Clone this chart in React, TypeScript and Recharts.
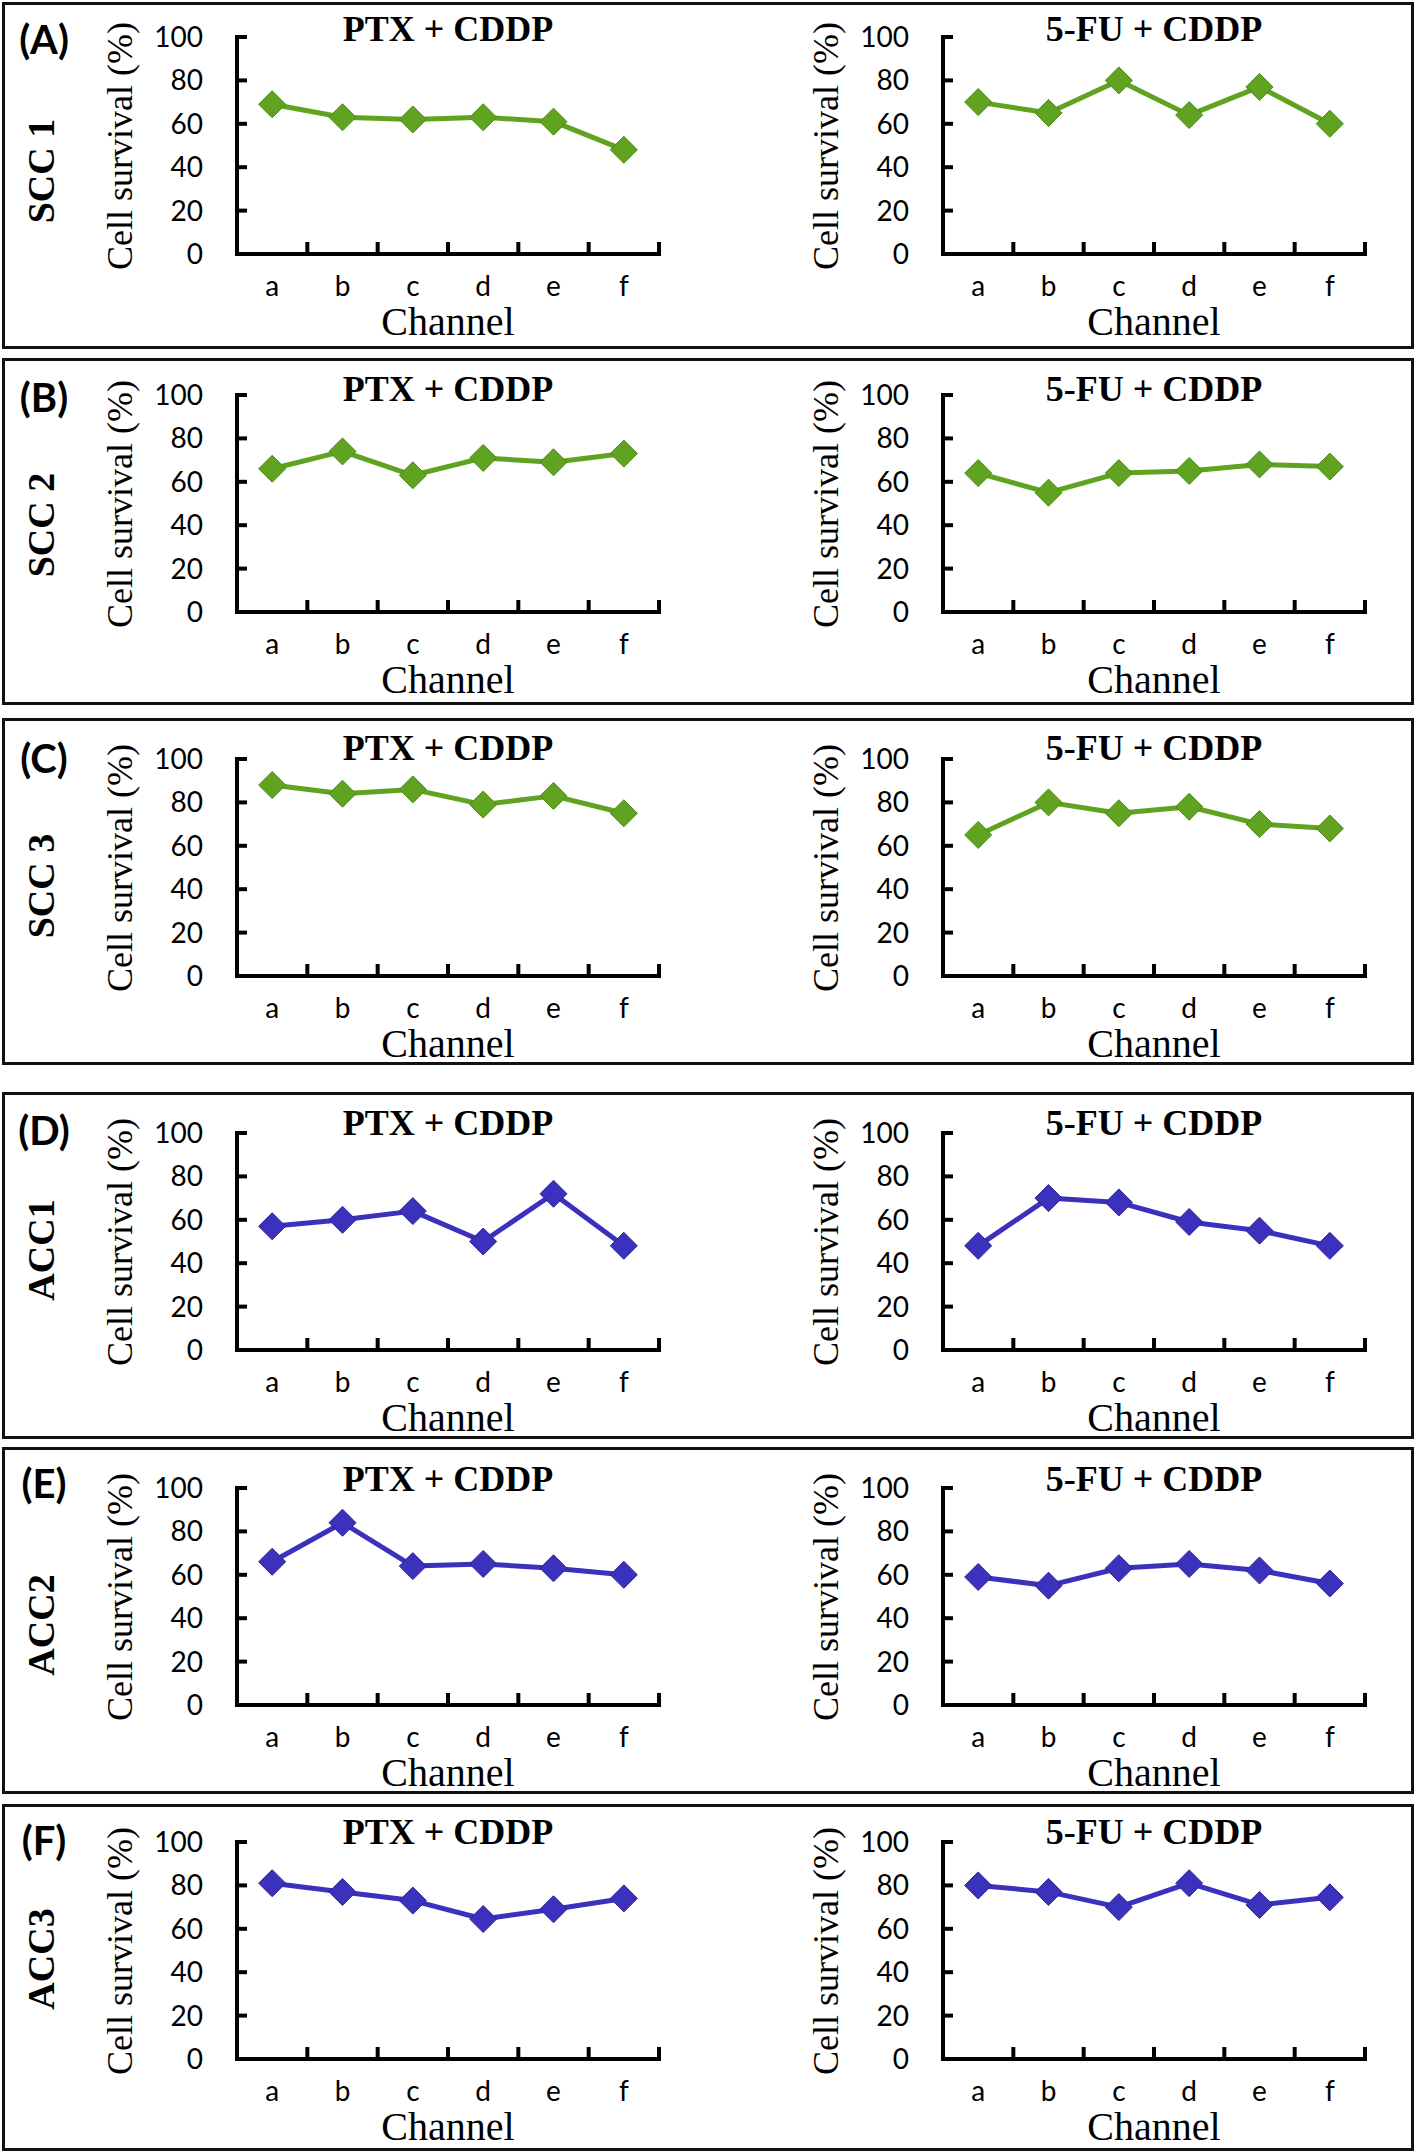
import React from 'react';
import { LineChart, Line, XAxis, YAxis, ReferenceLine } from 'recharts';

// ---------- data ----------
const CHANNELS = ['a', 'b', 'c', 'd', 'e', 'f'];
const Y_TICKS = [0, 20, 40, 60, 80, 100];
const TREATMENTS = ['PTX + CDDP', '5-FU + CDDP'];
const PANEL_LETTERS = ['(A)', '(B)', '(C)', '(D)', '(E)', '(F)'];
const CELL_LINES = ['SCC 1', 'SCC 2', 'SCC 3', 'ACC1', 'ACC2', 'ACC3'];

const SCC1_PTX = [69, 63, 62, 63, 61, 48];
const SCC1_FU = [70, 65, 80, 64, 77, 60];
const SCC2_PTX = [66, 74, 63, 71, 69, 73];
const SCC2_FU = [64, 55, 64, 65, 68, 67];
const SCC3_PTX = [88, 84, 86, 79, 83, 75];
const SCC3_FU = [65, 80, 75, 78, 70, 68];
const ACC1_PTX = [57, 60, 64, 50, 72, 48];
const ACC1_FU = [48, 70, 68, 59, 55, 48];
const ACC2_PTX = [66, 84, 64, 65, 63, 60];
const ACC2_FU = [59, 55, 63, 65, 62, 56];
const ACC3_PTX = [81, 77, 73, 64.5, 69, 74];
const ACC3_FU = [80, 77, 70, 81, 71, 74.5];

const PANEL_SERIES = [
  [SCC1_PTX, SCC1_FU],
  [SCC2_PTX, SCC2_FU],
  [SCC3_PTX, SCC3_FU],
  [ACC1_PTX, ACC1_FU],
  [ACC2_PTX, ACC2_FU],
  [ACC3_PTX, ACC3_FU],
];

// ---------- layout / style ----------
const GREEN = { line: '#5fa320', edge: '#4b8a17' };
const BLUE = { line: '#3b31bd', edge: '#2c2496' };
const PANEL_COLORS = [GREEN, GREEN, GREEN, BLUE, BLUE, BLUE];

const BOX_H = 344;
const PLOT_H = 217;
const CHART_W = 709;
const PLOT_LEFT = 237;
const RIGHT_MARGIN = 50;
const CHART_OFFSETS = [0, 706];
const X_TICK_LEN = 12;
const Y_TICK_LEN = 10;

const PANEL_LAYOUT = [
  { top: 4, plotTop: 33, titleY: 25, sideY: 167, letterY: 35 },
  { top: 360, plotTop: 35, titleY: 29, sideY: 165, letterY: 37 },
  { top: 720, plotTop: 39, titleY: 28, sideY: 166, letterY: 38 },
  { top: 1094, plotTop: 39, titleY: 29, sideY: 156, letterY: 36 },
  { top: 1449, plotTop: 39, titleY: 30, sideY: 176, letterY: 34 },
  { top: 1806, plotTop: 36, titleY: 26, sideY: 153, letterY: 34 },
];

const SERIF = '"Liberation Serif", "Times New Roman", serif';
const SANS = 'Lato, "Open Sans", sans-serif';

const axisLineStyle = { stroke: '#000', strokeWidth: 4, strokeLinecap: 'square' as const };
const tickTextStyle = { fontSize: 28, fontFamily: SANS, fill: '#000' };
const TICK_STROKE = '#000';

// inner tick marks drawn through reference lines placed by the chart's own scales
const XBoundaryTick = (p: any) => {
  const x = Number(p.x1);
  const yb = Math.max(Number(p.y1), Number(p.y2));
  if (!isFinite(x) || !isFinite(yb)) return <g />;
  return <path d={`M${x},${yb} V${yb - X_TICK_LEN}`} stroke={TICK_STROKE} strokeWidth={4} fill="none" />;
};
const YInnerTick = (p: any) => {
  const xl = Math.min(Number(p.x1), Number(p.x2));
  const y = Number(p.y1);
  if (!isFinite(xl) || !isFinite(y)) return <g />;
  return <path d={`M${xl},${y} H${xl + Y_TICK_LEN}`} stroke={TICK_STROKE} strokeWidth={4} fill="none" />;
};

function Diamond(props: any) {
  const { cx, cy, fill, stroke } = props;
  if (cx == null || cy == null) return null;
  const r = 13.5;
  return (
    <path
      d={`M${cx},${cy - r} L${cx + r},${cy} L${cx},${cy + r} L${cx - r},${cy} Z`}
      fill={fill}
      stroke={stroke}
      strokeWidth={1}
    />
  );
}

function SurvivalChart({ values, color, plotTop }: { values: number[]; color: { line: string; edge: string }; plotTop: number }) {
  const data = CHANNELS.map((c, i) => ({ channel: c, survival: values[i] }));
  const xAxisH = BOX_H - plotTop - PLOT_H;
  return (
    <LineChart
      width={CHART_W}
      height={BOX_H}
      data={data}
      margin={{ top: plotTop, right: RIGHT_MARGIN, bottom: 0, left: 0 }}
    >
      <XAxis
        dataKey="channel"
        type="category"
        scale="band"
        height={xAxisH}
        interval={0}
        tickLine={false}
        tickSize={0}
        tickMargin={22}
        axisLine={axisLineStyle}
        tick={tickTextStyle}
      />
      <YAxis
        type="number"
        domain={[0, 100]}
        ticks={Y_TICKS}
        interval={0}
        width={PLOT_LEFT}
        tickLine={false}
        tickSize={0}
        tickMargin={34}
        axisLine={axisLineStyle}
        tick={tickTextStyle}
      />
      {CHANNELS.map((c) => (
        <ReferenceLine key={`xs-${c}`} x={c} position="start" stroke={TICK_STROKE} shape={XBoundaryTick} ifOverflow="visible" />
      ))}
      <ReferenceLine x={CHANNELS[CHANNELS.length - 1]} position="end" stroke={TICK_STROKE} shape={XBoundaryTick} ifOverflow="visible" />
      {Y_TICKS.map((v) => (
        <ReferenceLine key={`y-${v}`} y={v} stroke={TICK_STROKE} shape={YInnerTick} ifOverflow="visible" />
      ))}
      <Line
        type="linear"
        dataKey="survival"
        stroke={color.line}
        strokeWidth={5}
        strokeLinejoin="round"
        dot={(p: any) => <Diamond key={`d${p.index}`} cx={p.cx} cy={p.cy} fill={color.line} stroke={color.edge} />}
        activeDot={false}
        isAnimationActive={false}
      />
    </LineChart>
  );
}

const centered = (x: number, y: number, rotate = 0): React.CSSProperties => ({
  position: 'absolute',
  left: x,
  top: y,
  transform: `translate(-50%, -50%) rotate(${rotate}deg)`,
  whiteSpace: 'nowrap',
  lineHeight: 1,
  color: '#000',
});

export default function App() {
  const plotCenterX = PLOT_LEFT + (CHART_W - PLOT_LEFT - RIGHT_MARGIN) / 2;
  return (
    <div style={{ position: 'absolute', left: 0, top: 0, width: 1418, height: 2154, background: '#fff', overflow: 'hidden' }}>
      {PANEL_LAYOUT.map((L, pi) => (
        <React.Fragment key={pi}>
          <div
            style={{
              position: 'absolute',
              left: 2,
              top: L.top - 2,
              width: 1412,
              height: BOX_H + 3,
              border: '3px solid #111',
              boxSizing: 'border-box',
            }}
          />
          <div style={{ ...centered(44, L.top + L.letterY), fontFamily: SANS, fontWeight: 700, fontSize: 40 }}>
            {PANEL_LETTERS[pi]}
          </div>
          <div style={{ ...centered(41, L.top + L.sideY, -90), fontFamily: SERIF, fontWeight: 700, fontSize: 38 }}>
            {CELL_LINES[pi]}
          </div>
          {CHART_OFFSETS.map((off, ci) => (
            <React.Fragment key={ci}>
              <div style={{ position: 'absolute', left: off, top: L.top, width: CHART_W, height: BOX_H }}>
                <SurvivalChart values={PANEL_SERIES[pi][ci]} color={PANEL_COLORS[pi]} plotTop={L.plotTop} />
              </div>
              <div style={{ ...centered(off + plotCenterX, L.top + L.titleY), fontFamily: SERIF, fontWeight: 700, fontSize: 36 }}>
                {TREATMENTS[ci]}
              </div>
              <div style={{ ...centered(off + 120, L.top + L.plotTop + PLOT_H / 2, -90), fontFamily: SERIF, fontSize: 36 }}>
                Cell survival (%)
              </div>
              <div style={{ ...centered(off + plotCenterX, L.top + L.plotTop + PLOT_H + 68), fontFamily: SERIF, fontSize: 40 }}>
                Channel
              </div>
            </React.Fragment>
          ))}
        </React.Fragment>
      ))}
    </div>
  );
}
